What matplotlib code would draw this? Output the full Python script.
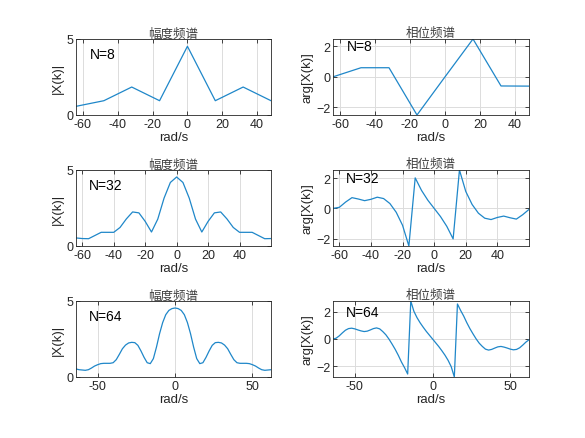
import numpy as np
import matplotlib
matplotlib.use("Agg")
import matplotlib.pyplot as plt

plt.rcParams['font.family'] = ['Liberation Sans', 'Noto Sans CJK SC', 'DejaVu Sans']

# frequency grids (rad/s)
w8 = np.arange(-64, 48 + 1, 16)
w32 = np.arange(-64, 60 + 1, 4)
w64 = np.arange(-64, 62 + 1, 2)

mag8 = [0.57, 0.94, 1.84, 0.94, 4.52, 0.94, 1.84, 0.94]
pha8 = [0.0, 0.60, 0.60, -2.51, 0.0, 2.49, -0.60, -0.61]

mag32 = [0.53, 0.49, 0.48, 0.69, 0.90, 0.90, 0.90, 1.22, 1.78, 2.24, 2.18, 1.62,
         0.92, 1.77, 3.15, 4.18, 4.54, 4.18, 3.15, 1.77, 0.92, 1.62, 2.18, 2.24,
         1.78, 1.22, 0.90, 0.90, 0.90, 0.69, 0.48, 0.49]
pha32 = [0.0, 0.07, 0.42, 0.71, 0.62, 0.51, 0.60, 0.74, 0.65, 0.32, -0.26, -1.12,
         -2.49, 2.02, 1.19, 0.54, 0.0, -0.54, -1.19, -2.02, 2.54, 1.12, 0.26, -0.32,
         -0.65, -0.74, -0.60, -0.51, -0.62, -0.71, -0.42, -0.07]

mag64 = [0.53, 0.48, 0.46, 0.44, 0.48, 0.59, 0.72, 0.81, 0.88, 0.90, 0.90, 0.90,
         0.94, 1.14, 1.49, 1.86, 2.10, 2.24, 2.28, 2.26, 2.08, 1.71, 1.29, 0.94,
         0.88, 1.21, 1.97, 2.85, 3.58, 4.10, 4.38, 4.50, 4.54,
         4.50, 4.38, 4.10, 3.58, 2.85, 1.97, 1.21, 0.88, 0.94, 1.29, 1.71, 2.08,
         2.26, 2.28, 2.24, 2.10, 1.86, 1.49, 1.14, 0.94, 0.90, 0.90, 0.90, 0.88,
         0.81, 0.72, 0.59, 0.48, 0.44, 0.46, 0.48]
pha64 = [0.0, 0.06, 0.23, 0.45, 0.65, 0.77, 0.80, 0.75, 0.67, 0.60, 0.55, 0.58,
         0.67, 0.77, 0.82, 0.75, 0.55, 0.31, -0.01, -0.38, -0.77, -1.21, -1.70, -2.12,
         -2.59, 2.81, 2.05, 1.58, 1.20, 0.87, 0.56, 0.28, 0.0,
         -0.28, -0.56, -0.87, -1.20, -1.58, -2.05, -2.81, 2.59, 2.12, 1.70, 1.21, 0.77,
         0.38, 0.01, -0.31, -0.55, -0.75, -0.82, -0.77, -0.67, -0.58, -0.55, -0.60, -0.67,
         -0.75, -0.80, -0.77, -0.65, -0.45, -0.23, -0.06]

labels = ['N=8', 'N=32', 'N=64']
xticks_sets = [[-60, -40, -20, 0, 20, 40], [-60, -40, -20, 0, 20, 40], [-50, 0, 50]]
title_mag = '幅度频谱'
title_pha = '相位频谱'

rows = [(w8, mag8, pha8), (w32, mag32, pha32), (w64, mag64, pha64)]

fig = plt.figure(figsize=(5.85, 4.39), dpi=100)
W, H = 585, 439
lefts = [76, 333]
widths = [195, 196]
tops = [40, 171, 302]
hgt = 76

txt = '#262626'
blue = '#1f87c9'
cjk = ['Noto Sans CJK SC', 'DejaVu Sans']

for r, (w, m, p) in enumerate(rows):
    for c in range(2):
        ax = fig.add_axes([lefts[c] / W, 1 - (tops[r] + hgt) / H, widths[c] / W, hgt / H])
        y = m if c == 0 else p
        ax.plot(w, y, color=blue, lw=0.9)
        ax.set_xlim(w[0], w[-1])
        if c == 0:
            ax.set_ylim(0, 5)
            ax.set_yticks([0, 5])
            ax.set_ylabel('|X(k)|', fontsize=9.5, color=txt, labelpad=2)
            ax.set_title(title_mag, fontsize=9, color='#404040', family=cjk, pad=2)
            ax.text(-56, 4, labels[r], fontsize=10, color='black', va='center', ha='left')
        else:
            ax.set_ylim(min(p), max(p))
            ax.set_yticks([-2, 0, 2])
            ax.set_ylabel('arg[X(k)]', fontsize=9.5, color=txt, labelpad=2)
            ax.set_title(title_pha, fontsize=9, color='#404040', family=cjk, pad=2)
            ax.text(-56, 2, labels[r], fontsize=10, color='black', va='center', ha='left')
        ax.set_xticks(xticks_sets[r])
        ax.set_xticklabels([str(t) if t >= 0 else '-' + str(-t) for t in xticks_sets[r]])
        ax.set_xlabel('rad/s', fontsize=9.5, color=txt, labelpad=1)
        ax.grid(True, color='#dcdcdc', lw=0.7)
        ax.set_axisbelow(True)
        ax.tick_params(direction='in', length=3, width=0.6, labelsize=9, colors=txt,
                       pad=2, top=True, right=True)
        for s in ax.spines.values():
            s.set_color('#262626')
            s.set_linewidth(0.6)

fig.savefig('out.png', dpi=100, facecolor='white')
